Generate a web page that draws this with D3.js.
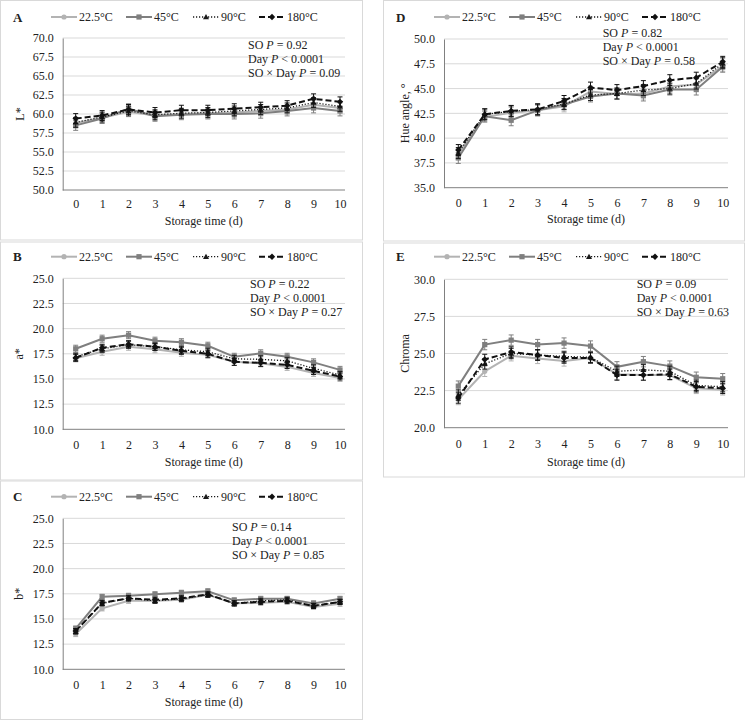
<!DOCTYPE html>
<html><head><meta charset="utf-8">
<script src="https://cdn.jsdelivr.net/npm/d3@7"></script>
<style>body{margin:0;background:#fff}svg{display:block}text{font-family:"Liberation Serif","Times New Roman",serif;fill:#222}</style>
</head><body>
<svg id="c" width="746" height="721"></svg>
<script>
const days = [0,1,2,3,4,5,6,7,8,9,10];
const seriesNames = ["22.5°C","45°C","90°C","180°C"];

const L_22 = [58.8,59.5,60.3,59.8,60.0,60.1,60.2,60.4,60.6,61.2,60.8];
const L_45 = [58.5,59.4,60.7,59.7,59.9,60.0,60.0,60.1,60.4,60.8,60.4];
const L_90 = [58.9,59.6,60.4,59.9,60.1,60.2,60.4,60.6,60.8,61.5,61.0];
const L_180 = [59.4,59.8,60.6,60.2,60.5,60.5,60.7,60.9,61.1,62.0,61.6];
const L_err = 0.65;

const a_22 = [17.05,17.7,18.2,17.95,17.6,17.4,16.7,16.55,16.2,15.6,15.1];
const a_45 = [18.0,19.0,19.35,18.8,18.65,18.3,17.2,17.55,17.2,16.65,15.9];
const a_90 = [17.2,18.0,18.4,18.2,17.9,17.7,17.0,16.95,16.8,16.05,15.4];
const a_180 = [17.1,18.1,18.45,18.2,17.8,17.5,16.7,16.6,16.4,15.8,15.25];
const a_err = 0.35;

const b_22 = [13.5,16.05,16.8,16.8,16.9,17.4,16.55,16.6,16.7,16.2,16.5];
const b_45 = [14.05,17.2,17.3,17.45,17.6,17.75,16.85,17.0,17.0,16.55,17.0];
const b_90 = [13.75,16.55,17.05,16.8,17.0,17.4,16.55,16.8,16.9,16.3,16.7];
const b_180 = [13.8,16.6,17.05,16.9,17.05,17.45,16.55,16.7,16.8,16.3,16.7];
const b_err = 0.25;

const h_22 = [38.4,42.15,42.55,42.8,43.2,44.7,44.45,44.5,45.2,45.4,47.3];
const h_45 = [38.0,42.2,41.8,42.8,43.4,44.2,44.5,44.3,44.9,44.9,47.2];
const h_90 = [38.5,42.4,42.7,42.9,43.45,44.35,44.5,44.85,45.0,45.5,47.55];
const h_180 = [38.8,42.4,42.75,42.9,43.75,45.1,44.85,45.25,45.85,46.1,47.7];
const h_err = 0.55;

const c_22 = [21.9,23.8,24.85,24.67,24.5,24.7,23.6,23.55,23.55,22.65,22.55];
const c_45 = [22.8,25.6,25.9,25.6,25.7,25.5,24.1,24.45,24.15,23.4,23.3];
const c_90 = [22.2,24.3,25.0,24.9,24.8,24.75,23.8,23.9,23.8,22.85,22.76];
const c_180 = [22.0,24.6,25.1,24.9,24.7,24.7,23.55,23.55,23.6,22.76,22.65];
const c_err = 0.35;

const yTicksL = [50,52.5,55,57.5,60,62.5,65,67.5,70];
const yTicksA = [10,12.5,15,17.5,20,22.5,25];
const yTicksB = [10,12.5,15,17.5,20,22.5,25];
const yTicksH = [35,37.5,40,42.5,45,47.5,50];
const yTicksC = [20,22.5,25,27.5,30];

const stats = {
  A:["0.92","< 0.0001","0.09"], B:["0.22","< 0.0001","0.27"], C:["0.14","< 0.0001","0.85"],
  D:["0.82","< 0.0001","0.58"], E:["0.09","< 0.0001","0.63"]
};

const styles = [
  {color:"#b3b3b3", dash:null, w:2, marker:"circle"},
  {color:"#7f7f7f", dash:null, w:2, marker:"square"},
  {color:"#1a1a1a", dash:"1.2,1.8", w:1.3, marker:"triangle"},
  {color:"#111", dash:"6,3", w:2, marker:"diamond"}
];

const panels = [
  {id:"A", box:[0.5,0.5,362.5,240], left:62.7, right:345, top:38, bottom:190, x0:75.7, x10:340,
   domain:[50,70], ticks:yTicksL, data:[L_22,L_45,L_90,L_180], err:L_err, ylabel:"L*", ylx:20,
   legY:17, ann:[248,49], xtY:208, xtitleY:225},
  {id:"B", box:[0.5,242,362.5,480], left:62.7, right:345, top:278.3, bottom:429.3, x0:75.7, x10:340,
   domain:[10,25], ticks:yTicksA, data:[a_22,a_45,a_90,a_180], err:a_err, ylabel:"a*", ylx:19,
   legY:256.7, ann:[250,288], xtY:449, xtitleY:466},
  {id:"C", box:[0.5,481,362.5,719.5], left:62.7, right:345, top:518.3, bottom:669.3, x0:75.7, x10:340,
   domain:[10,25], ticks:yTicksB, data:[b_22,b_45,b_90,b_180], err:b_err, ylabel:"b*", ylx:19,
   legY:496.7, ann:[232,531], xtY:689, xtitleY:706},
  {id:"D", box:[383.5,0.5,744.5,241], left:444, right:728, top:39, bottom:187.7, x0:458.3, x10:722.7,
   domain:[35,50], ticks:yTicksH, data:[h_22,h_45,h_90,h_180], err:h_err, ylabel:"Hue angle, °", ylx:405,
   legY:17, ann:[602.7,37], xtY:207, xtitleY:223},
  {id:"E", box:[383.5,243,744.5,477], left:444, right:728, top:279.3, bottom:427.7, x0:458.3, x10:722.7,
   domain:[20,30], ticks:yTicksC, data:[c_22,c_45,c_90,c_180], err:c_err, ylabel:"Chroma", ylx:405,
   legY:256.7, ann:[636.7,288], xtY:448, xtitleY:466}
];

const svg = d3.select("#c");

function marker(g, type, x, y, color) {
  if (type==="circle") g.append("circle").attr("cx",x).attr("cy",y).attr("r",2.6).attr("fill",color);
  else if (type==="square") g.append("rect").attr("x",x-2.6).attr("y",y-2.6).attr("width",5.2).attr("height",5.2).attr("fill",color);
  else if (type==="triangle") g.append("path").attr("d",`M${x},${y-3}L${x+3},${y+2.2}L${x-3},${y+2.2}Z`).attr("fill",color);
  else g.append("path").attr("d",`M${x},${y-3.2}L${x+3.2},${y}L${x},${y+3.2}L${x-3.2},${y}Z`).attr("fill",color);
}

panels.forEach(p => {
  const [bx0,by0,bx1,by1] = p.box;
  svg.append("rect").attr("x",bx0).attr("y",by0).attr("width",bx1-bx0).attr("height",by1-by0)
    .attr("fill","none").attr("stroke","#d9d9d9").attr("stroke-width",1);
  const g = svg.append("g");
  const x = d3.scaleLinear().domain([0,10]).range([p.x0,p.x10]);
  const y = d3.scaleLinear().domain(p.domain).range([p.bottom,p.top]);

  // gridlines
  g.selectAll(".grid").data(p.ticks.slice(1)).join("line")
    .attr("x1",p.left).attr("x2",p.right).attr("y1",d=>y(d)).attr("y2",d=>y(d))
    .attr("stroke","#d9d9d9").attr("stroke-width",1);
  // y axis
  const ya = d3.axisLeft(y).tickValues(p.ticks).tickFormat(d3.format(".1f")).tickSize(0).tickPadding(9);
  const yg = g.append("g").attr("transform",`translate(${p.left},0)`).call(ya);
  yg.select(".domain").attr("stroke","#808080");
  yg.selectAll("text").style("font-size","12px").attr("fill","#222").style("font-family",'"Liberation Serif",serif');
  // x axis
  const xa = d3.axisBottom(x).tickValues(days).tickFormat(d3.format("d")).tickSize(0).tickPadding(0);
  const xg = g.append("g").attr("transform",`translate(0,${p.bottom})`).call(xa);
  xg.select(".domain").attr("d",`M${p.left},0H${p.right}`).attr("stroke","#808080");
  xg.selectAll("text").attr("y",p.xtY-p.bottom).attr("dy",0).style("font-size","12px").attr("fill","#222").style("font-family",'"Liberation Serif",serif');

  // titles
  g.append("text").attr("x",(p.left+p.right)/2).attr("y",p.xtitleY).attr("text-anchor","middle").style("font-size","12px").text("Storage time (d)");
  g.append("text").attr("transform",`translate(${p.ylx+4},${(p.top+p.bottom)/2}) rotate(-90)`).attr("text-anchor","middle").style("font-size","12px").text(p.ylabel);

  // series
  p.data.forEach((vals,si) => {
    const st = styles[si];
    const sg = g.append("g");
    // error bars
    vals.forEach((v,i) => {
      const xx = x(days[i]), y1 = y(v-p.err), y2 = y(v+p.err);
      sg.append("line").attr("x1",xx).attr("x2",xx).attr("y1",y1).attr("y2",y2).attr("stroke",st.color).attr("stroke-width",1);
      [y1,y2].forEach(yy => sg.append("line").attr("x1",xx-2.5).attr("x2",xx+2.5).attr("y1",yy).attr("y2",yy).attr("stroke",st.color).attr("stroke-width",1));
    });
    const line = d3.line().x((d,i)=>x(days[i])).y(d=>y(d));
    sg.append("path").attr("d",line(vals)).attr("fill","none").attr("stroke",st.color)
      .attr("stroke-width",st.w).attr("stroke-dasharray",st.dash);
    vals.forEach((v,i) => marker(sg, st.marker, x(days[i]), y(v), st.color));
  });

  // legend
  const lx = bx0 - 0.5;
  g.append("text").attr("x",lx+13).attr("y",p.legY+4.5).style("font-size","13px").style("font-weight","bold").text(p.id);
  const legX = [51,126,193,259];
  seriesNames.forEach((nm,si) => {
    const st = styles[si];
    const x1 = lx+legX[si], x2 = x1+26;
    g.append("line").attr("x1",x1).attr("x2",x2).attr("y1",p.legY).attr("y2",p.legY).attr("stroke",st.color)
      .attr("stroke-width",st.w).attr("stroke-dasharray",st.dash);
    marker(g, st.marker, (x1+x2)/2, p.legY, st.color);
    g.append("text").attr("x",x2+2).attr("y",p.legY+4).style("font-size","12px").text(nm);
  });

  // annotation
  const s = stats[p.id];
  const [ax,ay] = p.ann;
  const rows = [["SO ", s[0]],["Day ", s[1]],["SO × Day ", s[2]]];
  rows.forEach((r,ri) => {
    const t = g.append("text").attr("x",ax).attr("y",ay+ri*14).style("font-size","12px");
    t.append("tspan").text(r[0]);
    t.append("tspan").style("font-style","italic").text("P");
    t.append("tspan").text(r[1].startsWith("<") ? " " + r[1] : " = " + r[1]);
  });
});
</script>
</body></html>
